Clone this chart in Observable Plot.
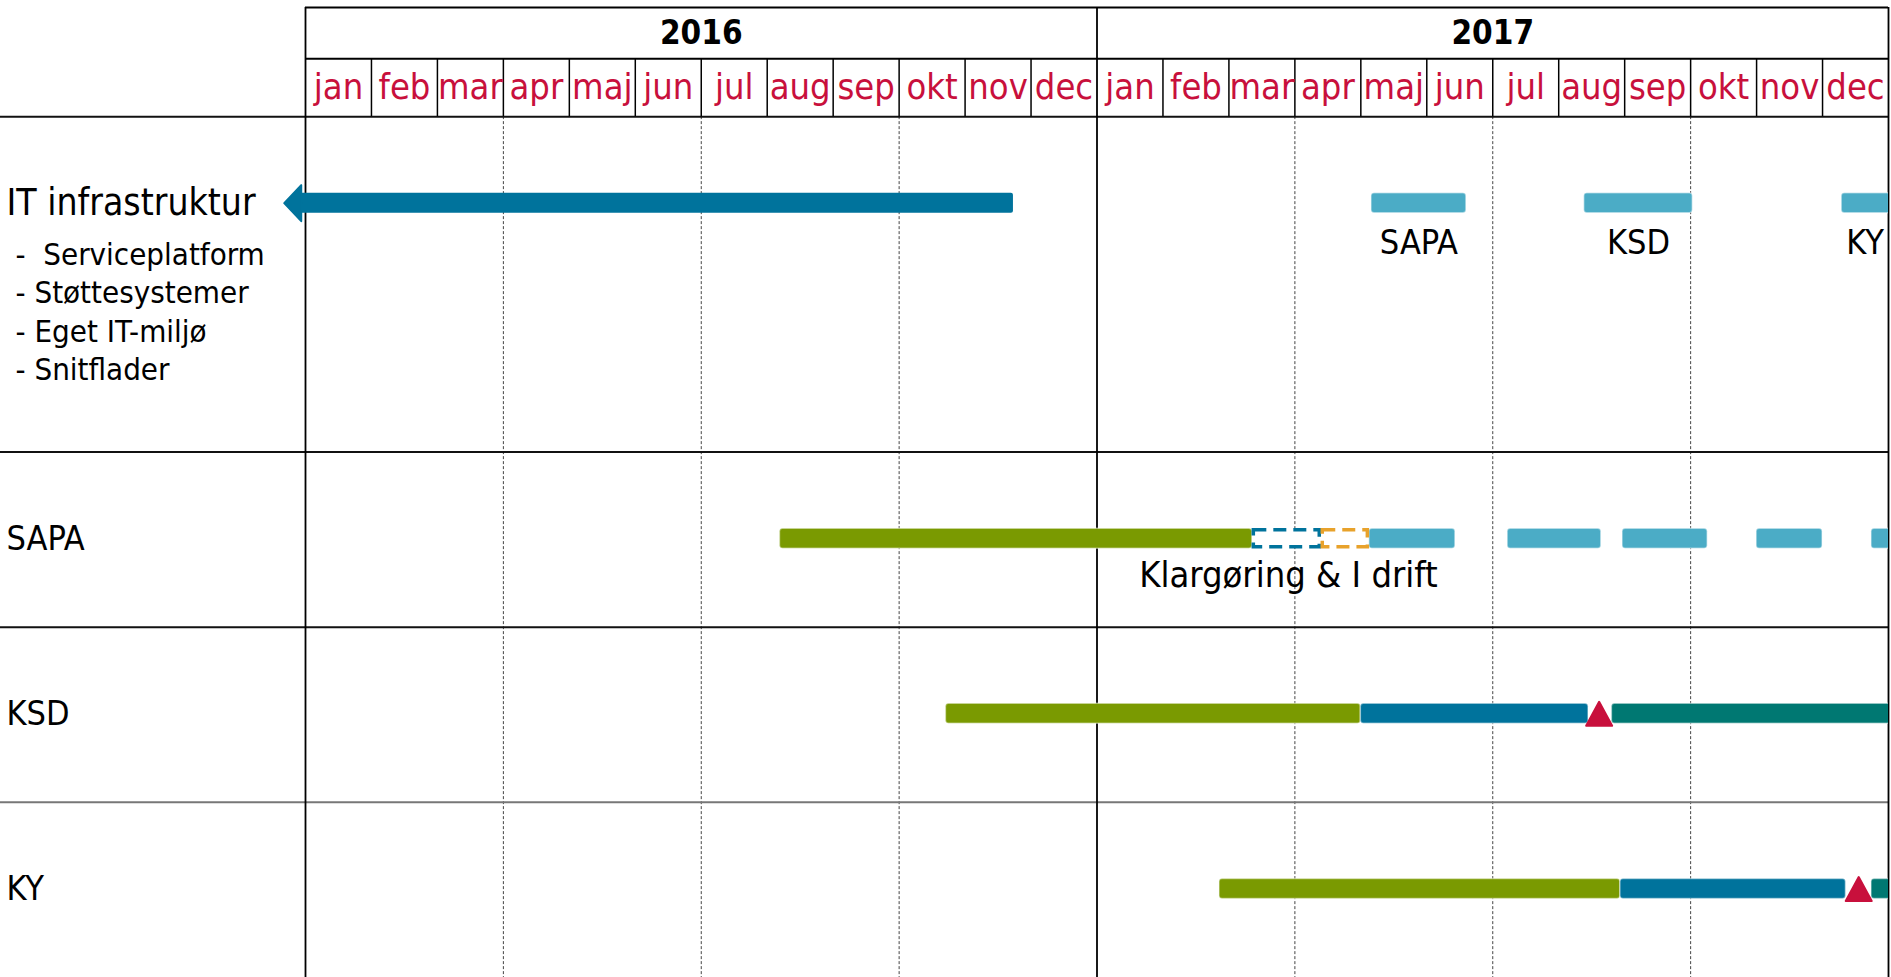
<!DOCTYPE html>
<html>
<head>
<meta charset="utf-8">
<script src="https://cdn.jsdelivr.net/npm/d3@7"></script>
<script src="https://cdn.jsdelivr.net/npm/@observablehq/plot@0.6"></script>
<style>
  html, body { margin: 0; padding: 0; background: #fff; overflow: hidden; }
  #chart svg { display: block; white-space: pre; }
</style>
</head>
<body>
<div id="chart"></div>
<script>
// ---------------- data ----------------
const months = ["jan","feb","mar","apr","maj","jun","jul","aug","sep","okt","nov","dec"];
const years = ["2016", "2017"];
const rowNames = ["IT infrastruktur", "SAPA", "KSD", "KY"];
const itItems = ["-  Serviceplatform", "- Støttesystemer", "- Eget IT-miljø", "- Snitflader"];

// IT infrastructure arrow (pointing left, tip before the chart start)
const itArrow = [{tip: "2015-12-22", end: "2016-11-23"}];
// IT deliveries per system
const itDeliveries = [
  {label: "SAPA", start: "2017-05-06", end: "2017-06-19"},
  {label: "KSD",  start: "2017-08-13", end: "2017-10-02"},
  {label: "KY",   start: "2017-12-10", end: "2018-01-31"}
];
// phase segments: [row, kind, start, end]
const segments = [
  ["SAPA", "green",   "2016-08-07", "2017-03-12"],
  ["SAPA", "blueDash","2017-03-12", "2017-04-13"],
  ["SAPA", "orangeDash","2017-04-13", "2017-05-05"],
  ["SAPA", "light",   "2017-05-05", "2017-06-14"],
  ["SAPA", "light",   "2017-07-08", "2017-08-21"],
  ["SAPA", "light",   "2017-08-31", "2017-10-09"],
  ["SAPA", "light",   "2017-11-01", "2017-12-01"],
  ["SAPA", "light",   "2017-12-24", "2018-01-31"],
  ["KSD",  "green",   "2016-10-23", "2017-05-01"],
  ["KSD",  "blue",    "2017-05-01", "2017-08-15"],
  ["KSD",  "teal",    "2017-08-26", "2018-01-31"],
  ["KY",   "green",   "2017-02-25", "2017-08-30"],
  ["KY",   "blue",    "2017-08-30", "2017-12-12"],
  ["KY",   "teal",    "2017-12-24", "2018-01-31"]
];
const milestones = [
  {row: "KSD", date: "2017-08-20"},
  {row: "KY",  date: "2017-12-18"}
];
const sapaNote = [{row: "SAPA", text: "Klargøring & I drift", date: "2017-03-29"}];

// ---------------- styles / layout ----------------
const colors = {
  green: "#7a9a01", blue: "#00739c", teal: "#007872", light: "#4bacc6",
  blueDash: "#00739c", orangeDash: "#e8a22b"
};
const RED = "#c8103c";
const FONT = '"DejaVu Sans Condensed", "DejaVu Sans", sans-serif';

const W = 1891, H = 977, ML = 305, MR = 3, MT = 7;
const HEADER_TOP = -0.623, MONTH_TOP = -0.331;
const rowSpan = [1.914, 1, 1, 1];
const rowTop = {};
let acc = 0;
rowNames.forEach((r, i) => { rowTop[r] = acc; acc += rowSpan[i]; });
const BOTTOM = acc;
const U = (H - MT) / (BOTTOM - HEADER_TOP); // px per unit
const lane = r => rowTop[r] + (r === "IT infrastruktur" ? 0.494 : 0.495);
const half = 10 / U;

// date string -> month index (0 = start of jan 2016)
function mIdx(s) {
  const d = new Date(s + "T00:00:00Z");
  const y = d.getUTCFullYear(), m = d.getUTCMonth();
  const dim = new Date(Date.UTC(y, m + 1, 0)).getUTCDate();
  return (y - 2016) * 12 + m + (d.getUTCDate() - 1) / dim;
}

const segData = segments.map(([row, kind, start, end]) => ({row, kind, x1: mIdx(start), x2: mIdx(end)}));
const solidSeg = segData.filter(d => !d.kind.endsWith("Dash"));
const dashSeg = segData.filter(d => d.kind.endsWith("Dash"));
const monthCells = d3.range(24).map(i => ({i, label: months[i % 12]}));
const dividers = rowNames.slice(1).map((r, i) => ({y: rowTop[r], stroke: i === 2 ? "#777" : "#111"}));

const triSym = {draw(ctx) { ctx.moveTo(0, -12); ctx.lineTo(13, 12); ctx.lineTo(-13, 12); ctx.closePath(); }};
const headSym = {draw(ctx) { ctx.moveTo(0, 0); ctx.lineTo(17, -18); ctx.lineTo(17, 18); ctx.closePath(); }};

const ITL = lane("IT infrastruktur");

const plot = Plot.plot({
  width: W, height: H,
  marginLeft: ML, marginRight: MR, marginTop: MT, marginBottom: 0,
  style: {fontFamily: FONT, fontStretch: "condensed", background: "#fff", color: "#000", overflow: "visible"},
  x: {type: "linear", domain: [0, 24], axis: null},
  y: {type: "linear", domain: [HEADER_TOP, BOTTOM], reverse: true, axis: null},
  marks: [
    // quarter dashed grid lines
    Plot.ruleX([3, 6, 9, 15, 18, 21], {y1: 0, y2: BOTTOM, stroke: "#444", strokeWidth: 1, strokeDasharray: "3,2"}),
    // header horizontal lines
    Plot.ruleY([HEADER_TOP, MONTH_TOP], {stroke: "#000", strokeWidth: 2}),
    // header bottom and body row dividers (span the label column too)
    Plot.ruleY([0], {stroke: "#111", strokeWidth: 2, insetLeft: -ML}),
    Plot.ruleY(dividers, {y: "y", stroke: "stroke", strokeWidth: 2, insetLeft: -ML}),
    // month cell separators
    Plot.ruleX(d3.range(1, 24).filter(i => i !== 12), {y1: MONTH_TOP, y2: 0, stroke: "#000", strokeWidth: 1.5}),
    // year boundaries
    Plot.ruleX([0, 12, 24], {y1: HEADER_TOP, y2: BOTTOM, stroke: "#000", strokeWidth: 1.8}),
    // header texts
    Plot.text(years, {x: (d, i) => i * 12 + 6, y: (HEADER_TOP + MONTH_TOP) / 2, text: d => d, fontSize: 33, fontWeight: "bold", fill: "#000"}),
    Plot.text(monthCells, {x: d => d.i + 0.5, y: MONTH_TOP / 2, text: "label", fontSize: 36, fill: RED}),
    // row labels
    Plot.text(rowNames, {frameAnchor: "left", dx: -299, y: d => lane(d), text: d => d, textAnchor: "start",
      fontSize: d => d === "IT infrastruktur" ? 37 : 34, fill: "#000"}),
    Plot.text(itItems, {frameAnchor: "left", dx: -290, y: (d, i) => ITL + (51.5 + 38.5 * i) / U, text: d => d,
      textAnchor: "start", fontSize: 31, fill: "#000"}),
    // IT arrow
    Plot.rect(itArrow, {x1: d => mIdx(d.tip), x2: d => mIdx(d.end), y1: ITL - half, y2: ITL + half, insetLeft: 15,
      fill: colors.blue, rx: 2}),
    Plot.dot(itArrow, {x: d => mIdx(d.tip), y: ITL, symbol: headSym, fill: colors.blue, stroke: colors.blue,
      strokeWidth: 2, strokeLinejoin: "round"}),
    // IT deliveries
    Plot.rect(itDeliveries, {x1: d => mIdx(d.start), x2: d => mIdx(d.end), y1: ITL - half, y2: ITL + half,
      fill: colors.light, stroke: "#fff", strokeOpacity: 0.45, strokeWidth: 1.5, rx: 3, clip: true}),
    Plot.text(itDeliveries, {x: d => (mIdx(d.start) + Math.min(24, mIdx(d.end))) / 2, y: ITL, dy: 40, text: "label",
      fontSize: 34, fill: "#000"}),
    // phase bars
    Plot.rect(solidSeg, {x1: "x1", x2: "x2", y1: d => lane(d.row) - half, y2: d => lane(d.row) + half,
      fill: d => colors[d.kind], stroke: "#fff", strokeOpacity: 0.45, strokeWidth: 1.5, rx: 3, clip: true}),
    Plot.rect(dashSeg, {x1: "x1", x2: "x2", y1: d => lane(d.row) - half, y2: d => lane(d.row) + half,
      insetTop: 1.5, insetBottom: 1.5, insetLeft: 1.5, insetRight: 1.5,
      fill: "#fff", stroke: d => colors[d.kind], strokeWidth: 3.5, strokeDasharray: "13,7"}),
    Plot.text(sapaNote, {x: d => mIdx(d.date), y: d => lane(d.row), dy: 37, text: "text", fontSize: 36, fill: "#000"}),
    // milestones
    Plot.dot(milestones, {x: d => mIdx(d.date), y: d => lane(d.row), symbol: triSym, fill: RED, stroke: RED,
      strokeWidth: 2, strokeLinejoin: "round"})
  ]
});
document.getElementById("chart").appendChild(plot);
</script>
</body>
</html>
